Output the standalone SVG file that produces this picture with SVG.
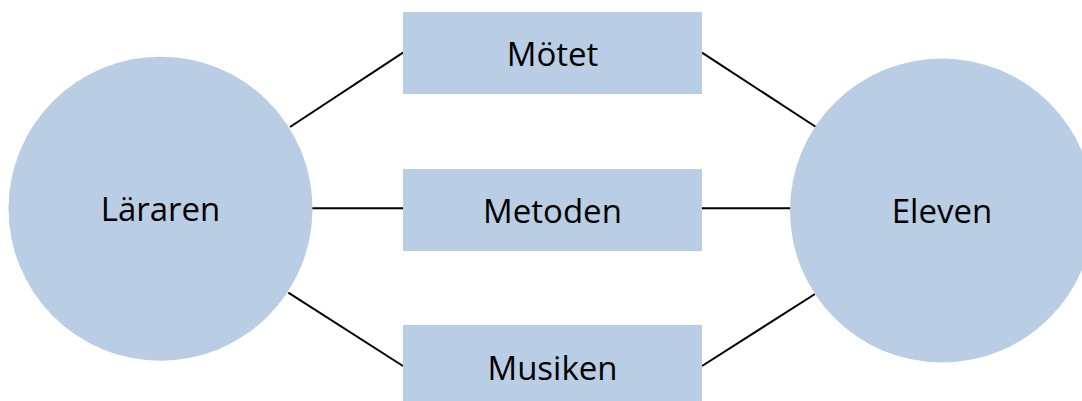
<svg xmlns="http://www.w3.org/2000/svg" width="1082" height="401" viewBox="0 0 1082 401">
<style>
.shape{fill:#B9CDE5;stroke:none}
.lbl{font-family:"Open Sans","Noto Sans","Liberation Sans",sans-serif;font-size:33px;fill:#000;text-anchor:middle}
.edge{stroke:#000;stroke-width:2;fill:none}
</style>
<rect width="1082" height="401" fill="#fff"/>
<g id="connectors">
<line class="edge" x1="290" y1="127" x2="403" y2="52.7"/>
<line class="edge" x1="312" y1="208.3" x2="403" y2="208.3"/>
<line class="edge" x1="288.3" y1="292.7" x2="403" y2="366"/>
<line class="edge" x1="702" y1="52.7" x2="816" y2="127"/>
<line class="edge" x1="702" y1="208.3" x2="791" y2="208.3"/>
<line class="edge" x1="702" y1="366" x2="815" y2="294"/>
</g>
<g id="lararen">
<circle class="shape" cx="160.5" cy="208.7" r="152"/>
<text class="lbl" x="160.5" y="221">Läraren</text>
</g>
<g id="eleven">
<circle class="shape" cx="942" cy="210.5" r="152"/>
<text class="lbl" x="942" y="223">Eleven</text>
</g>
<g id="motet">
<rect class="shape" x="403" y="12" width="299" height="82"/>
<text class="lbl" x="552.5" y="66.3">Mötet</text>
</g>
<g id="metoden">
<rect class="shape" x="403" y="169" width="299" height="82"/>
<text class="lbl" x="552.5" y="223">Metoden</text>
</g>
<g id="musiken">
<rect class="shape" x="403" y="325" width="299" height="82"/>
<text class="lbl" x="552.5" y="379.6">Musiken</text>
</g>
</svg>
